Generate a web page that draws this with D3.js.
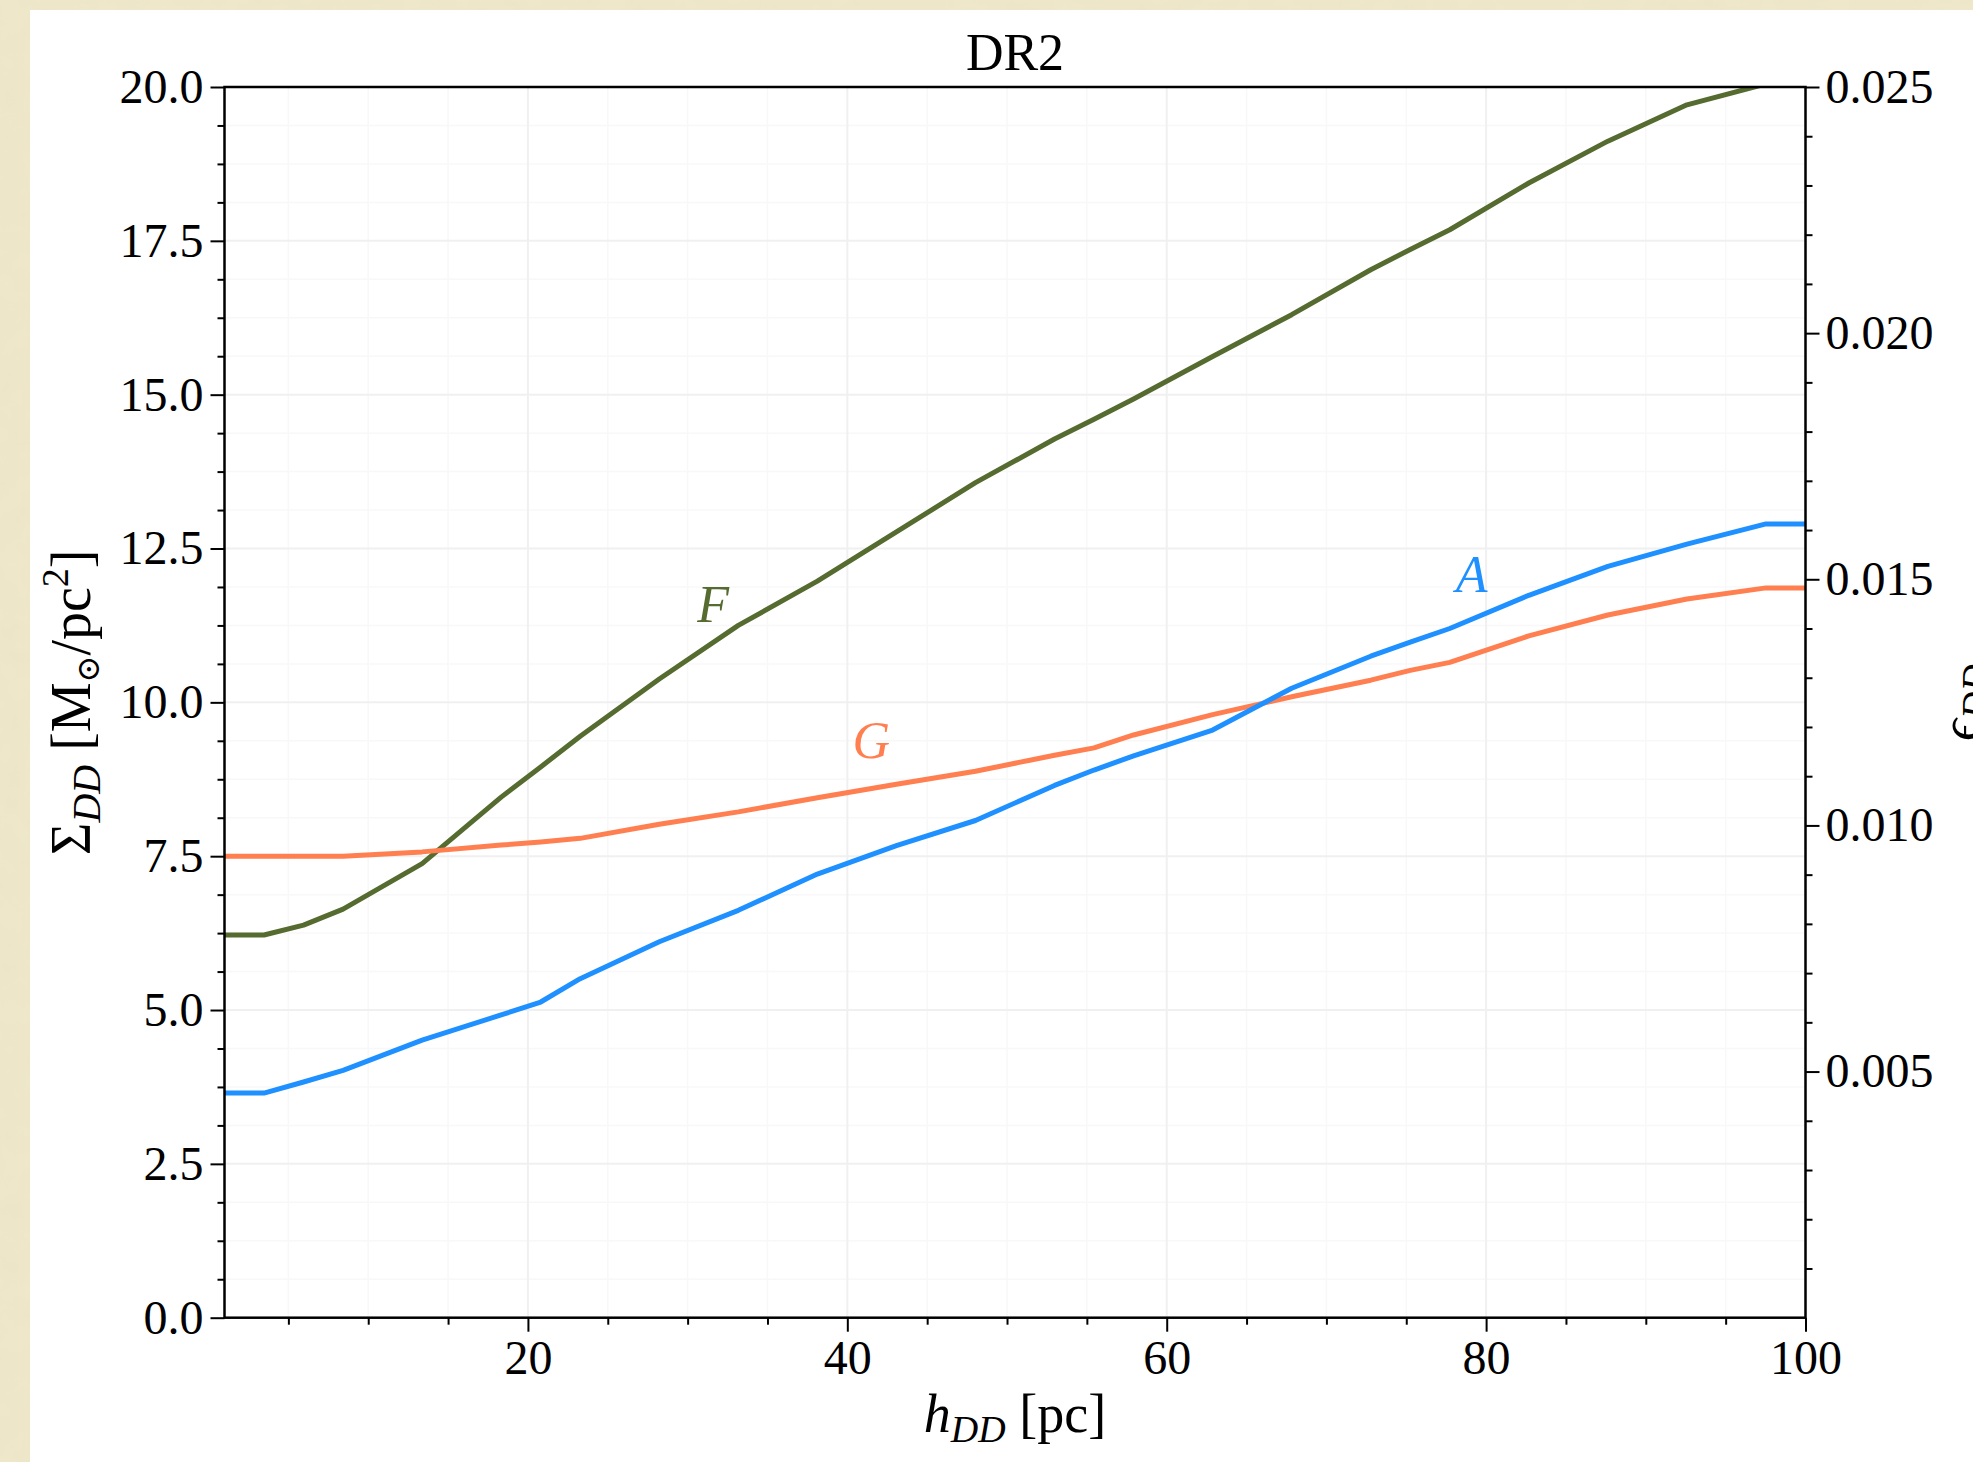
<!DOCTYPE html>
<html>
<head>
<meta charset="utf-8">
<script src="https://cdnjs.cloudflare.com/ajax/libs/d3/7.8.5/d3.min.js"></script>
<style>
  body { margin: 0; padding: 0; overflow: hidden; }
  text { font-family: "Liberation Serif", "DejaVu Serif", serif; }
</style>
</head>
<body>
<script>
//Data: scale height h_DD [pc] vs surface density
var hValues = [1, 3.475, 5.95, 8.425, 13.375, 18.325, 20.8, 23.275, 28.225, 33.175, 38.125, 43.075, 48.025,
               52.975, 55.45, 57.925, 62.875, 67.825, 72.775, 75.25, 77.725, 82.675, 87.625, 92.575, 97.525, 100];
var sigmaF = [6.22, 6.22, 6.38, 6.64, 7.38, 8.46, 8.95, 9.45, 10.38, 11.25, 11.97, 12.77, 13.57,
              14.28, 14.6, 14.93, 15.62, 16.3, 17.03, 17.36, 17.68, 18.44, 19.12, 19.71, 20.05, 20.05];
var sigmaA = [3.65, 3.65, 3.83, 4.02, 4.51, 4.92, 5.13, 5.51, 6.11, 6.62, 7.21, 7.67, 8.08,
              8.65, 8.9, 9.13, 9.55, 10.23, 10.75, 10.98, 11.2, 11.74, 12.21, 12.57, 12.9, 12.9];
var sigmaG = [7.5, 7.5, 7.5, 7.5, 7.57, 7.68, 7.73, 7.79, 8.02, 8.22, 8.45, 8.67, 8.88,
              9.14, 9.26, 9.47, 9.8, 10.09, 10.36, 10.52, 10.65, 11.08, 11.42, 11.68, 11.86, 11.86];

var seriesNames = ["F", "G", "A"];
var seriesColors = ["#556b2f", "#ff7f50", "#1e90ff"];
//where the letter labels sit, in data units
var labelX = [31.6, 41.5, 79.1];
var labelY = [11.3, 9.1, 11.8];

var xTicks = [20, 40, 60, 80, 100];
var yTicks = [0, 2.5, 5, 7.5, 10, 12.5, 15, 17.5, 20];
var y2Ticks = [0.005, 0.010, 0.015, 0.020, 0.025];

//Width and height
var w = 1973;
var h = 1462;
var margin = {top: 87, right: 167.5, bottom: 144.3, left: 224.5};
var pw = w - margin.left - margin.right;
var ph = h - margin.top - margin.bottom;

var svg = d3.select("body")
            .append("svg")
            .attr("width", w)
            .attr("height", h);

//parchment-ish background
var defs = svg.append("defs");
var filt = defs.append("filter").attr("id", "paper");
filt.append("feTurbulence")
    .attr("type", "fractalNoise")
    .attr("baseFrequency", 0.04)
    .attr("numOctaves", 3)
    .attr("seed", 4);
filt.append("feColorMatrix")
    .attr("type", "matrix")
    .attr("values", "0 0 0 0 0.80  0 0 0 0 0.74  0 0 0 0 0.52  0 0 0 0.4 0");
filt.append("feComposite").attr("in2", "SourceGraphic").attr("operator", "in");

svg.append("rect").attr("width", w).attr("height", h).attr("fill", "#efe8cb");
svg.append("rect").attr("width", w).attr("height", h).attr("fill", "#efe8cb")
   .attr("filter", "url(#paper)");
svg.append("rect").attr("x", 30).attr("y", 10)
   .attr("width", w - 30).attr("height", h - 10)
   .attr("fill", "#ffffff");

defs.append("clipPath").attr("id", "plotclip")
    .append("rect").attr("width", pw).attr("height", ph);

var x = d3.scaleLinear().domain([1, 100]).range([0, pw]);
var y = d3.scaleLinear().domain([0, 20]).range([ph, 0]);
var y2 = d3.scaleLinear().domain([0, 0.025]).range([ph, 0]);

var g = svg.append("g")
           .attr("transform", "translate(" + margin.left + "," + margin.top + ")");

//minor tick positions
var xMinor = d3.range(5, 100, 5).filter(function(d) { return d % 20 !== 0; });
var yMinor = d3.range(0, 20.001, 0.625).filter(function(d) { return Math.abs(d / 2.5 - Math.round(d / 2.5)) > 1e-6; });
var y2Minor = d3.range(1, 25).filter(function(d) { return d % 5 !== 0; }).map(function(d) { return d / 1000; });

//grid lines
g.append("g").selectAll("line")
  .data(xMinor).enter().append("line")
    .attr("x1", function(d) { return x(d); }).attr("x2", function(d) { return x(d); })
    .attr("y1", 0).attr("y2", ph)
    .attr("stroke", "#f8f8f8").attr("stroke-width", 1.5);
g.append("g").selectAll("line")
  .data(yMinor).enter().append("line")
    .attr("y1", function(d) { return y(d); }).attr("y2", function(d) { return y(d); })
    .attr("x1", 0).attr("x2", pw)
    .attr("stroke", "#f8f8f8").attr("stroke-width", 1.5);
g.append("g").selectAll("line")
  .data(xTicks).enter().append("line")
    .attr("x1", function(d) { return x(d); }).attr("x2", function(d) { return x(d); })
    .attr("y1", 0).attr("y2", ph)
    .attr("stroke", "#f0f0f0").attr("stroke-width", 2);
g.append("g").selectAll("line")
  .data(yTicks).enter().append("line")
    .attr("y1", function(d) { return y(d); }).attr("y2", function(d) { return y(d); })
    .attr("x1", 0).attr("x2", pw)
    .attr("stroke", "#f0f0f0").attr("stroke-width", 2);

//the three curves
var allSeries = [sigmaF, sigmaG, sigmaA];
var line = d3.line()
             .x(function(d) { return x(d[0]); })
             .y(function(d) { return y(d[1]); });

g.append("g").attr("clip-path", "url(#plotclip)")
  .selectAll("path")
  .data(allSeries)
  .enter()
  .append("path")
    .attr("d", function(s) { return line(d3.zip(hValues, s)); })
    .attr("fill", "none")
    .attr("stroke", function(s, i) { return seriesColors[i]; })
    .attr("stroke-width", 5)
    .attr("stroke-linejoin", "round");

g.selectAll(".lbl")
  .data(seriesNames)
  .enter()
  .append("text")
    .attr("class", "lbl")
    .attr("x", function(d, i) { return x(labelX[i]); })
    .attr("y", function(d, i) { return y(labelY[i]); })
    .attr("text-anchor", "middle")
    .attr("font-style", "italic")
    .attr("font-size", 52)
    .attr("fill", function(d, i) { return seriesColors[i]; })
    .text(function(d) { return d; });

//axes
var fs = 48;
function styleAxis(sel) {
  sel.select(".domain").remove();
  sel.selectAll(".tick line").attr("stroke", "#000").attr("stroke-width", 2);
  sel.selectAll(".tick text").attr("font-size", fs).attr("fill", "#000")
     .attr("font-family", "Liberation Serif, DejaVu Serif, serif");
}

var gx = g.append("g").attr("transform", "translate(0," + ph + ")")
  .call(d3.axisBottom(x).tickValues(xTicks).tickFormat(d3.format("d")).tickSize(14).tickPadding(8));
styleAxis(gx);
g.append("g").attr("transform", "translate(0," + ph + ")")
  .call(d3.axisBottom(x).tickValues(xMinor).tickFormat("").tickSize(7))
  .call(styleAxis);

var gy = g.append("g")
  .call(d3.axisLeft(y).tickValues(yTicks).tickFormat(d3.format(".1f")).tickSize(14).tickPadding(7));
styleAxis(gy);
g.append("g")
  .call(d3.axisLeft(y).tickValues(yMinor).tickFormat("").tickSize(7))
  .call(styleAxis);

var gy2 = g.append("g").attr("transform", "translate(" + pw + ",0)")
  .call(d3.axisRight(y2).tickValues(y2Ticks).tickFormat(d3.format(".3f")).tickSize(14).tickPadding(6));
styleAxis(gy2);
g.append("g").attr("transform", "translate(" + pw + ",0)")
  .call(d3.axisRight(y2).tickValues(y2Minor).tickFormat("").tickSize(7))
  .call(styleAxis);

//frame
g.append("rect")
  .attr("width", pw).attr("height", ph)
  .attr("fill", "none").attr("stroke", "#000").attr("stroke-width", 2.5);

//title and axis labels
svg.append("text")
  .attr("x", margin.left + pw / 2).attr("y", 70)
  .attr("text-anchor", "middle").attr("font-size", 52)
  .text("DR2");

var xl = svg.append("text")
  .attr("x", margin.left + pw / 2).attr("y", 1432)
  .attr("text-anchor", "middle").attr("font-size", 54);
xl.append("tspan").attr("font-style", "italic").text("h");
xl.append("tspan").attr("font-style", "italic").attr("font-size", 38).attr("dy", 10).text("DD");
xl.append("tspan").attr("dy", -10).text(" [pc]");

var yl = svg.append("text")
  .attr("transform", "translate(90," + (margin.top + ph / 2) + ") rotate(-90)")
  .attr("text-anchor", "middle").attr("font-size", 56);
yl.append("tspan").text("Σ");
yl.append("tspan").attr("font-style", "italic").attr("font-size", 40).attr("dy", 10).text("DD");
yl.append("tspan").attr("dy", -10).text(" [M");
yl.append("tspan").attr("font-family", "DejaVu Serif").attr("font-size", 32).attr("dy", 9).text("⊙");
yl.append("tspan").attr("dy", -9).text("/pc");
yl.append("tspan").attr("font-size", 38).attr("dy", -22).text("2");
yl.append("tspan").attr("dy", 22).text("]");

//right label sits at the figure edge, as in the original
var y2l = svg.append("text")
  .attr("transform", "translate(1978," + (margin.top + ph / 2) + ") rotate(-90)")
  .attr("text-anchor", "middle").attr("font-size", 54);
y2l.append("tspan").attr("font-style", "italic").text("ϵ");
y2l.append("tspan").attr("font-style", "italic").attr("font-size", 38).attr("dy", 10).text("DD");
</script>
</body>
</html>
